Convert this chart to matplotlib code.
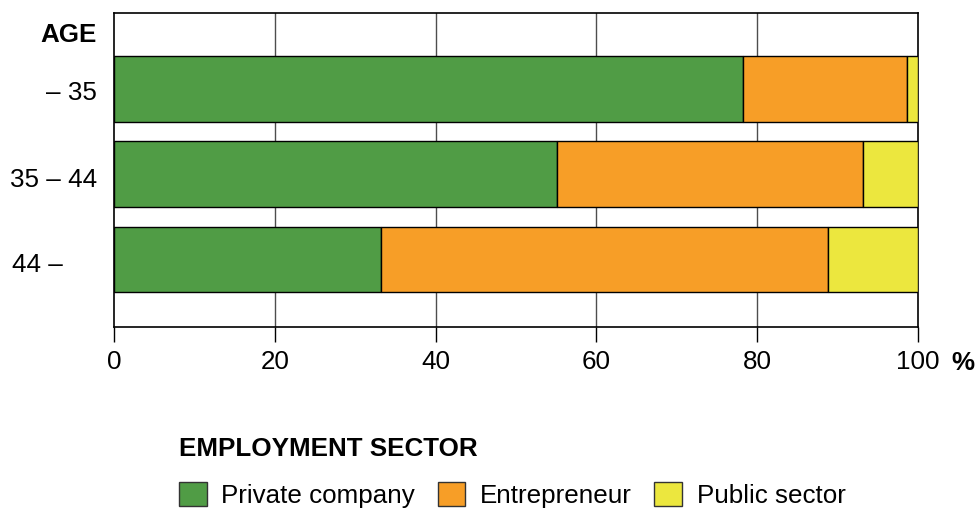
import matplotlib
matplotlib.use("Agg")
import matplotlib.pyplot as plt
from matplotlib.patches import Patch
import numpy as np

plt.rcParams['font.family'] = ['Liberation Sans', 'DejaVu Sans']

# Data
age_groups = ["– 35", "35 – 44", "44 –"]
sectors = ["Private company", "Entrepreneur", "Public sector"]
private_company = [78.2, 55.1, 33.2]
entrepreneur = [20.4, 38.1, 55.6]
public_sector = [1.4, 6.8, 11.2]
x_ticks = [0, 20, 40, 60, 80, 100]
colors = ["#509C45", "#F79E27", "#ECE73E"]

FS = 18.7

fig = plt.figure(figsize=(9.79, 5.08), dpi=100)
ax = fig.add_axes([114/979, 1-326.7/508, (918-114)/979, (326.7-13)/508])

y = np.arange(len(age_groups))
left = np.zeros(len(age_groups))
for vals, col, name in zip([private_company, entrepreneur, public_sector], colors, sectors):
    ax.barh(y, vals, left=left, height=0.77, color=col, edgecolor="black",
            linewidth=1.0, zorder=3, label=name)
    left = left + np.array(vals)

ax.set_xlim(0, 100)
ax.set_ylim(2.788, -0.89)
ax.set_xticks(x_ticks)
ax.set_xticklabels([str(t) for t in x_ticks], fontsize=FS)
ax.tick_params(axis='x', length=11, width=1.0, pad=6, color='black')
ax.set_yticks([])
for xt in x_ticks[1:-1]:
    ax.axvline(xt, color="#4d4d4d", lw=1.0, zorder=1)
for s in ax.spines.values():
    s.set_linewidth(1.2)
    s.set_color("black")

# y labels
tr = ax.get_yaxis_transform()
ax.text(-0.0211, -0.55, "AGE", transform=tr, ha='right', va='baseline',
        fontsize=FS, fontweight='bold')
ax.text(-0.0211, 0 + 0.135, age_groups[0], transform=tr, ha='right', va='baseline', fontsize=FS)
ax.text(-0.0211, 1 + 0.15, age_groups[1], transform=tr, ha='right', va='baseline', fontsize=FS)
ax.text((12-114)/804, 2 + 0.148, age_groups[2], transform=tr, ha='left', va='baseline', fontsize=FS)

fig.text(963/979, 1-370/508, "%", ha='center', va='baseline', fontsize=FS, fontweight='bold')

handles = [Patch(facecolor=c, edgecolor="#333333", linewidth=1.0) for c in colors]
leg = fig.legend(handles, sectors, loc='upper left', bbox_to_anchor=(179/979, 1-437.5/508),
                 ncol=3, frameon=False, fontsize=FS, borderpad=0, borderaxespad=0,
                 handlelength=1.06, handleheight=1.06, handletextpad=0.56,
                 columnspacing=0.88, labelspacing=0.79,
                 title="EMPLOYMENT SECTOR", alignment='left',
                 title_fontproperties={'weight': 'bold', 'size': FS})

fig.savefig("out.png", dpi=100)
